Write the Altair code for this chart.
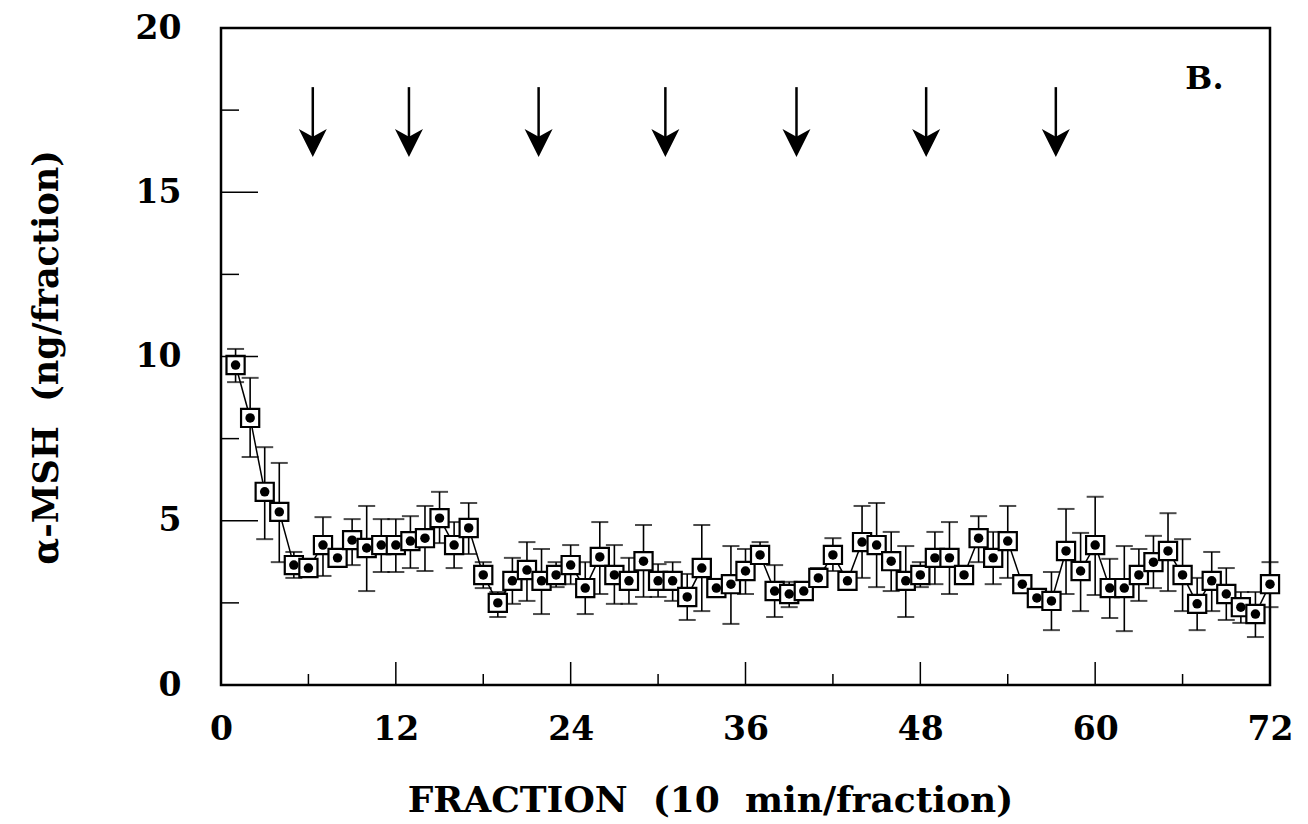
import altair as alt
import pandas as pd

fraction = list(range(1, 73))
mean_vals = [9.74, 8.13, 5.88, 5.27, 3.65, 3.56, 4.26, 3.87, 4.41, 4.17,
             4.26, 4.26, 4.38, 4.47, 5.08, 4.26, 4.78, 3.35, 2.50, 3.17,
             3.50, 3.17, 3.35, 3.65, 2.95, 3.90, 3.35, 3.17, 3.77, 3.17,
             3.17, 2.68, 3.56, 2.95, 3.07, 3.47, 3.96, 2.86, 2.77, 2.86,
             3.26, 3.96, 3.17, 4.35, 4.26, 3.77, 3.17, 3.35, 3.87, 3.87,
             3.35, 4.47, 3.87, 4.38, 3.07, 2.65, 2.56, 4.08, 3.47, 4.26,
             2.95, 2.95, 3.35, 3.74, 4.08, 3.35, 2.47, 3.17, 2.77, 2.37,
             2.16, 3.07]
upper_vals = [10.23, 9.35, 7.24, 6.76, 4.05, 3.75, 5.11, 4.10, 5.05, 5.45,
              5.05, 5.05, 5.14, 5.45, 5.88, 4.96, 5.54, 3.74, 2.83, 3.87,
              4.35, 4.14, 3.74, 4.26, 3.74, 4.96, 4.26, 3.87, 4.87, 3.68,
              3.74, 3.38, 4.87, 3.23, 4.23, 4.14, 4.35, 3.65, 3.14, 3.05,
              3.56, 4.47, 3.35, 5.45, 5.54, 4.66, 4.23, 3.74, 4.66, 4.96,
              3.55, 5.14, 4.66, 5.45, 3.25, 2.85, 3.44, 5.36, 4.63, 5.73,
              3.84, 4.23, 4.14, 4.54, 5.23, 4.44, 3.26, 4.05, 3.56, 2.83,
              2.83, 3.74]
lower_vals = [9.22, 6.94, 4.44, 3.74, 3.26, 3.35, 3.32, 3.60, 3.65, 2.86,
              3.44, 3.44, 3.56, 3.47, 4.32, 3.56, 3.99, 2.95, 2.07, 2.47,
              2.56, 2.16, 2.98, 3.07, 2.16, 2.77, 2.47, 2.47, 2.68, 2.68,
              2.56, 1.98, 2.25, 2.70, 1.86, 2.77, 3.71, 2.07, 2.37, 2.67,
              2.98, 3.47, 3.00, 3.26, 2.98, 2.86, 2.07, 2.98, 3.07, 2.77,
              3.15, 3.74, 3.07, 3.26, 2.90, 2.45, 1.67, 2.77, 2.25, 2.74,
              2.04, 1.64, 2.56, 2.95, 2.86, 2.25, 1.67, 2.25, 1.98, 1.89,
              1.46, 2.37]

arrow_x = [6.3, 12.9, 21.8, 30.5, 39.5, 48.4, 57.3]
arrow_top = 18.2
arrow_bottom = 16.6
arrow_head = 16.5

x_ticks = [0, 12, 24, 36, 48, 60, 72]
y_ticks = [0, 5, 10, 15, 20]
x_major_inner = [12, 24, 36, 48, 60]
x_minor_inner = [6, 18, 30, 42, 54, 66]
y_major_inner = [5, 10, 15]
y_minor_inner = [2.5, 7.5, 12.5, 17.5]

FONT = "DejaVu Serif"
W, H = 1049, 657
NB = "\u00a0"

df = pd.DataFrame({"frac": fraction, "mean": mean_vals,
                   "lo": lower_vals, "hi": upper_vals})
arrows = pd.DataFrame({"x": arrow_x, "top": [arrow_top] * len(arrow_x),
                       "bot": [arrow_bottom] * len(arrow_x),
                       "head": [arrow_head] * len(arrow_x)})

xscale = alt.Scale(domain=[0, 72], nice=False, zero=False)
yscale = alt.Scale(domain=[0, 20], nice=False)

xaxis = alt.Axis(values=x_ticks, ticks=False, domain=False, grid=False,
                 labelFont=FONT, labelFontWeight="bold", labelFontSize=33,
                 labelColor="black", labelPadding=28, labelFlush=False,
                 title=f"FRACTION{NB}{NB}(10{NB}{NB}min/fraction)", titleFont=FONT,
                 titleFontWeight="bold", titleFontSize=36, titleColor="black",
                 titleX=489, titleY=115, titleBaseline="middle", titleAnchor="middle",
                 titleAlign="center")
yaxis = alt.Axis(values=y_ticks, ticks=False, domain=False, grid=False,
                 labelFont=FONT, labelFontWeight="bold", labelFontSize=33,
                 labelColor="black", labelPadding=40, labelFlush=False,
                 title=f"α-MSH{NB}{NB}(ng/fraction)", titleFont=FONT,
                 titleFontWeight="bold", titleFontSize=35, titleColor="black",
                 titleX=-175, titleY=329, titleBaseline="middle", titleAlign="center",
                 titleAngle=270)

base = alt.Chart(df)

err = base.mark_rule(color="black", strokeWidth=1.6).encode(
    x=alt.X("frac:Q", scale=xscale, axis=xaxis),
    y=alt.Y("lo:Q", scale=yscale, axis=yaxis),
    y2="hi:Q")
cap_hi = base.mark_tick(color="black", orient="horizontal", size=17, thickness=2).encode(
    x=alt.X("frac:Q", scale=xscale), y=alt.Y("hi:Q", scale=yscale))
cap_lo = base.mark_tick(color="black", orient="horizontal", size=17, thickness=2).encode(
    x=alt.X("frac:Q", scale=xscale), y=alt.Y("lo:Q", scale=yscale))
line = base.mark_line(color="black", strokeWidth=1.5).encode(
    x=alt.X("frac:Q", scale=xscale), y=alt.Y("mean:Q", scale=yscale))
box = base.mark_square(size=330, filled=True, fill="white", stroke="black",
                       strokeWidth=2.2, opacity=1).encode(
    x=alt.X("frac:Q", scale=xscale), y=alt.Y("mean:Q", scale=yscale))
dot = base.mark_circle(size=90, color="black", opacity=1).encode(
    x=alt.X("frac:Q", scale=xscale), y=alt.Y("mean:Q", scale=yscale))

ach = alt.Chart(arrows)
shaft = ach.mark_rule(color="black", strokeWidth=2.5).encode(
    x=alt.X("x:Q", scale=xscale), y=alt.Y("top:Q", scale=yscale), y2="bot:Q")
head = ach.mark_point(shape="M0,1 L-1,-1 L0,-0.45 L1,-1 Z", size=784,
                      filled=True, color="black", opacity=1).encode(
    x=alt.X("x:Q", scale=xscale), y=alt.Y("head:Q", scale=yscale))

label_df = pd.DataFrame({"x": [67.5], "y": [18.45], "t": ["B."]})
label = alt.Chart(label_df).mark_text(font=FONT, fontWeight="bold", fontSize=32,
                                      color="black", align="center",
                                      baseline="middle").encode(
    x=alt.X("x:Q", scale=xscale), y=alt.Y("y:Q", scale=yscale), text="t:N")

# inward ticks
ymaj = alt.Chart(pd.DataFrame({"v": y_major_inner})).mark_rule(
    color="black", strokeWidth=1.5).encode(
    y=alt.Y("v:Q", scale=yscale), x=alt.value(0), x2=alt.value(37))
ymin = alt.Chart(pd.DataFrame({"v": y_minor_inner})).mark_rule(
    color="black", strokeWidth=1.5).encode(
    y=alt.Y("v:Q", scale=yscale), x=alt.value(0), x2=alt.value(18))
xmaj = alt.Chart(pd.DataFrame({"v": x_major_inner})).mark_rule(
    color="black", strokeWidth=1.5).encode(
    x=alt.X("v:Q", scale=xscale), y=alt.value(H), y2=alt.value(H - 23))
xmin = alt.Chart(pd.DataFrame({"v": x_minor_inner})).mark_rule(
    color="black", strokeWidth=1.5).encode(
    x=alt.X("v:Q", scale=xscale), y=alt.value(H), y2=alt.value(H - 11))

chart = alt.layer(err, cap_hi, cap_lo, line, box, dot, shaft, head, label,
                  ymaj, ymin, xmaj, xmin).properties(
    width=W, height=H,
    autosize=alt.AutoSizeParams(type="none"),
    padding={"left": 221, "top": 28, "right": 38, "bottom": 139},
    background="white",
).configure_view(stroke="black", strokeWidth=2.5)

chart.save("out.html", embed_options={"renderer": "svg", "actions": False})
